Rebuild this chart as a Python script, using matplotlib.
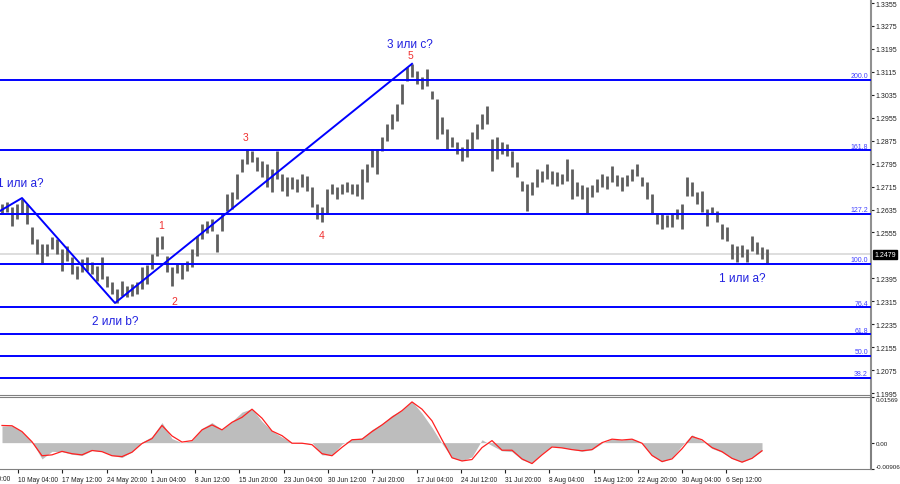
import numpy as np
import matplotlib
matplotlib.use('Agg')
import matplotlib.pyplot as plt
import matplotlib.transforms as mtransforms

plt.rcParams['font.family'] = ['Liberation Sans', 'DejaVu Sans']

# 4H bars, sampled, high/low
highs = [1.2655, 1.2661, 1.2644, 1.2655, 1.2672, 1.2655, 1.2574, 1.2532, 1.2515, 1.2515,
         1.2539, 1.2532, 1.2497, 1.2508, 1.2469, 1.2438, 1.2462, 1.2469, 1.2452, 1.2438,
         1.2469, 1.2403, 1.2382, 1.2358, 1.2386, 1.2368, 1.2375, 1.2382, 1.2435, 1.2442,
         1.2480, 1.2539, 1.2543, 1.2473, 1.2435, 1.2445, 1.2445, 1.2456, 1.2497, 1.2543,
         1.2585, 1.2595, 1.2602, 1.2550, 1.2620, 1.2689, 1.2696, 1.2759, 1.2812, 1.2846,
         1.2839, 1.2819, 1.2805, 1.2794, 1.2777, 1.2839, 1.2759, 1.2749, 1.2749, 1.2742,
         1.2759, 1.2752, 1.2714, 1.2655, 1.2644, 1.2707, 1.2724, 1.2714, 1.2724, 1.2731,
         1.2724, 1.2724, 1.2777, 1.2794, 1.2846, 1.2846, 1.2888, 1.2934, 1.2968, 1.3003,
         1.3073, 1.3132, 1.3143, 1.3118, 1.3097, 1.3125, 1.3049, 1.3021, 1.2958, 1.2916,
         1.2888, 1.2871, 1.2853, 1.2881, 1.2906, 1.2934, 1.2968, 1.2996, 1.2881, 1.2888,
         1.2871, 1.2864, 1.2839, 1.2801, 1.2735, 1.2724, 1.2731, 1.2777, 1.2770, 1.2794,
         1.2770, 1.2766, 1.2759, 1.2812, 1.2777, 1.2731, 1.2721, 1.2714, 1.2721, 1.2742,
         1.2759, 1.2752, 1.2787, 1.2756, 1.2749, 1.2756, 1.2777, 1.2794, 1.2749, 1.2731,
         1.2689, 1.2620, 1.2620, 1.2616, 1.2620, 1.2637, 1.2655, 1.2749, 1.2731, 1.2696,
         1.2700, 1.2637, 1.2644, 1.2630, 1.2585, 1.2574, 1.2515, 1.2508, 1.2511, 1.2497,
         1.2543, 1.2522, 1.2504, 1.2497]
lows = [1.2620, 1.2627, 1.2578, 1.2602, 1.2620, 1.2585, 1.2515, 1.2480, 1.2445, 1.2473,
        1.2497, 1.2480, 1.2421, 1.2456, 1.2410, 1.2393, 1.2417, 1.2421, 1.2410, 1.2386,
        1.2393, 1.2365, 1.2340, 1.2309, 1.2333, 1.2330, 1.2333, 1.2340, 1.2358, 1.2375,
        1.2428, 1.2473, 1.2497, 1.2417, 1.2368, 1.2414, 1.2393, 1.2421, 1.2435, 1.2473,
        1.2532, 1.2553, 1.2560, 1.2487, 1.2560, 1.2630, 1.2637, 1.2672, 1.2766, 1.2794,
        1.2801, 1.2770, 1.2749, 1.2714, 1.2696, 1.2742, 1.2700, 1.2682, 1.2707, 1.2696,
        1.2714, 1.2700, 1.2644, 1.2602, 1.2592, 1.2620, 1.2689, 1.2672, 1.2689, 1.2696,
        1.2689, 1.2682, 1.2672, 1.2731, 1.2784, 1.2759, 1.2839, 1.2874, 1.2916, 1.2944,
        1.3003, 1.3084, 1.3097, 1.3073, 1.3056, 1.3066, 1.3021, 1.2881, 1.2899, 1.2846,
        1.2853, 1.2829, 1.2805, 1.2819, 1.2846, 1.2881, 1.2916, 1.2934, 1.2770, 1.2812,
        1.2829, 1.2822, 1.2784, 1.2749, 1.2700, 1.2630, 1.2686, 1.2714, 1.2731, 1.2742,
        1.2724, 1.2717, 1.2724, 1.2735, 1.2672, 1.2682, 1.2672, 1.2620, 1.2679, 1.2696,
        1.2714, 1.2707, 1.2731, 1.2717, 1.2700, 1.2717, 1.2735, 1.2752, 1.2717, 1.2672,
        1.2620, 1.2585, 1.2567, 1.2574, 1.2574, 1.2602, 1.2567, 1.2682, 1.2682, 1.2655,
        1.2627, 1.2578, 1.2620, 1.2592, 1.2532, 1.2525, 1.2462, 1.2452, 1.2469, 1.2452,
        1.2490, 1.2480, 1.2462, 1.2445]
last_price = 1.2479

# MACD (every 2nd bar)
macd_hist = [0.0057, 0.0058, 0.0038, 0.0003, -0.0056, -0.0030, -0.0031, -0.0040, -0.0044, -0.0027,
             -0.0030, -0.0044, -0.0051, -0.0031, 0.0002, 0.0021, 0.0069, 0.0014, 0.0000, 0.0007,
             0.0049, 0.0069, 0.0045, 0.0073, 0.0105, 0.0117, 0.0073, 0.0040, 0.0019, 0.0000,
             -0.0003, 0.0000, -0.0042, -0.0042, -0.0005, 0.0012, 0.0016, 0.0045, 0.0065, 0.0094,
             0.0112, 0.0142, 0.0101, 0.0052, -0.0003, -0.0052, -0.0062, -0.0049, 0.0010, -0.0010,
             -0.0028, -0.0031, -0.0059, -0.0070, -0.0037, -0.0012, -0.0017, -0.0023, -0.0030, -0.0024,
             -0.0002, 0.0013, 0.0009, 0.0014, -0.0002, -0.0045, -0.0066, -0.0052, -0.0010, 0.0027,
             0.0007, -0.0020, -0.0033, -0.0054, -0.0067, -0.0052, -0.0028]
macd_signal = [0.0059, 0.0058, 0.0038, 0.0003, -0.0045, -0.0042, -0.0030, -0.0038, -0.0042, -0.0027,
               -0.0031, -0.0045, -0.0048, -0.0033, -0.0003, 0.0014, 0.0059, 0.0023, 0.0002, 0.0007,
               0.0044, 0.0061, 0.0044, 0.0070, 0.0087, 0.0115, 0.0084, 0.0040, 0.0024, -0.0002,
               -0.0002, -0.0007, -0.0038, -0.0045, -0.0016, 0.0010, 0.0012, 0.0038, 0.0061, 0.0087,
               0.0110, 0.0140, 0.0115, 0.0075, 0.0010, -0.0052, -0.0063, -0.0058, -0.0017, 0.0007,
               -0.0026, -0.0026, -0.0056, -0.0072, -0.0042, -0.0015, -0.0018, -0.0024, -0.0028, -0.0024,
               0.0000, 0.0012, 0.0009, 0.0012, -0.0002, -0.0044, -0.0065, -0.0056, -0.0021, 0.0021,
               0.0010, -0.0017, -0.0031, -0.0054, -0.0067, -0.0054, -0.0028]
macd_max, macd_min = 0.01569, -0.00906

# fibo extension levels
fib_ratios = [38.2, 50.0, 61.8, 76.4, 100.0, 127.2, 161.8, 200.0]
fib_zero = 1.1803
fib_unit = 0.0642

# wave markup
wave_idx = [-0.4, 4, 22.6, 82]
wave_price = [1.2630, 1.2675, 1.2309, 1.3143]
big_labels = [('1 или a?', 3.6, 1.2728), ('2 или b?', 22.6, 1.2247),
              ('3 или c?', 81.6, 1.3212), ('1 или a?', 148, 1.2396)]
small_labels = [('1', 31.8, 1.2581), ('2', 34.4, 1.2316), ('3', 48.8, 1.2888),
                ('4', 64, 1.2546), ('5', 81.6, 1.3173)]

price_ticks = [1.3355, 1.3275, 1.3195, 1.3115, 1.3035, 1.2955, 1.2875, 1.2795, 1.2715,
               1.2635, 1.2555, 1.2395, 1.2315, 1.2235, 1.2155, 1.2075, 1.1995]
first_date = ('3 May 20:00', -5.7)   # left of the window, only its tail shows
date_pos = [3.2, 12.0, 21.0, 29.8, 38.6, 47.4, 56.4, 65.2, 74.0, 83.0,
            91.8, 100.6, 109.4, 118.4, 127.2, 136.0, 144.8]
date_labels = ['10 May 04:00', '17 May 12:00', '24 May 20:00', '1 Jun 04:00',
               '8 Jun 12:00', '15 Jun 20:00', '23 Jun 04:00', '30 Jun 12:00', '7 Jul 20:00',
               '17 Jul 04:00', '24 Jul 12:00', '31 Jul 20:00', '8 Aug 04:00', '15 Aug 12:00',
               '22 Aug 20:00', '30 Aug 04:00', '6 Sep 12:00']

W, H = 900, 485
fig = plt.figure(figsize=(9, 4.85), dpi=100)
ax = fig.add_axes([0, 1 - 396 / H, 871 / W, 396 / H])
ax2 = fig.add_axes([0, 1 - 470 / H, 871 / W, 72 / H], sharex=ax)

idx = np.arange(len(highs))
xlim = (-0.4, 173.8)

ax.axhline(last_price, color='#d8d8d8', lw=1.2, zorder=1)
ax.vlines(idx, lows, highs, color='#5e5e5e', lw=2.0, zorder=2)

for r in fib_ratios:
    lvl = fib_zero + fib_unit * r / 100
    ax.axhline(lvl, color='#0000ff', lw=1.4, zorder=3)
    ax.text(xlim[1] - 0.6, lvl + 0.0002, '%.1f' % r, ha='right', va='bottom',
            fontsize=5, color='#4040ff', zorder=4)

ax.plot(wave_idx, wave_price, color='#0000ff', lw=1.4, zorder=4)
for t, x, y in big_labels:
    ax.text(x, y, t, ha='center', va='center', fontsize=8.5, color='#2020e0')
for t, x, y in small_labels:
    ax.text(x, y, t, ha='center', va='center', fontsize=7.5, color='#f03030')

for s in ['left', 'top']:
    ax.spines[s].set_visible(False)
ax.spines['right'].set_color('#909090')
ax.spines['right'].set_linewidth(1.5)
ax.spines['bottom'].set_color('#808080')
ax.yaxis.tick_right()
ax.set_yticks(price_ticks)
ax.set_yticklabels(['%.4f' % p for p in price_ticks])
ax.tick_params(axis='y', length=2.5, width=0.8, pad=1, labelsize=5, colors='#202020')
ax.tick_params(axis='x', bottom=False, labelbottom=False)

trans = mtransforms.blended_transform_factory(ax.transAxes, ax.transData)
ax.text(1.004, last_price, '%.4f' % last_price, transform=trans, ha='left', va='center',
        fontsize=5, color='white', clip_on=False,
        bbox=dict(boxstyle='square,pad=0.15', fc='black', ec='black'))

# MACD panel
midx = np.arange(len(macd_hist)) * 2
ax2.fill_between(midx, 0, macd_hist, color='#bdbdbd', lw=0)
ax2.plot(midx, macd_signal, color='#ff2020', lw=0.9)
ax2.spines['left'].set_visible(False)
for s in ['top', 'right', 'bottom']:
    ax2.spines[s].set_color('#808080')
ax2.spines['right'].set_linewidth(1.5)
ax2.yaxis.tick_right()
ax2.set_yticks([macd_min, 0, macd_max])
ax2.set_yticklabels(['%.5f' % macd_min, '0.00', '%.5f' % macd_max])
ax2.tick_params(axis='y', length=2.5, width=0.8, pad=1, labelsize=4.5, colors='#202020')
labs = ax2.get_yticklabels()
labs[0].set_va('bottom')
labs[2].set_va('top')
ax2.set_xticks(date_pos)
ax2.set_xticklabels(date_labels)
ax2.tick_params(axis='x', length=3, width=0.8, pad=2, labelsize=4.8, colors='#202020')
for lab in ax2.get_xticklabels():
    lab.set_ha('left')
ax2.text(first_date[1], -0.135, first_date[0], transform=mtransforms.blended_transform_factory(
    ax2.transData, ax2.transAxes), ha='left', va='center', fontsize=4.8, color='#202020',
    clip_on=False)

# limits last: set_xticks would widen them
ax.set_xlim(*xlim)
ax.set_ylim(1.19882, 1.3369)
ax2.set_ylim(macd_min, macd_max)

fig.savefig('out.png', dpi=100, facecolor='white')
